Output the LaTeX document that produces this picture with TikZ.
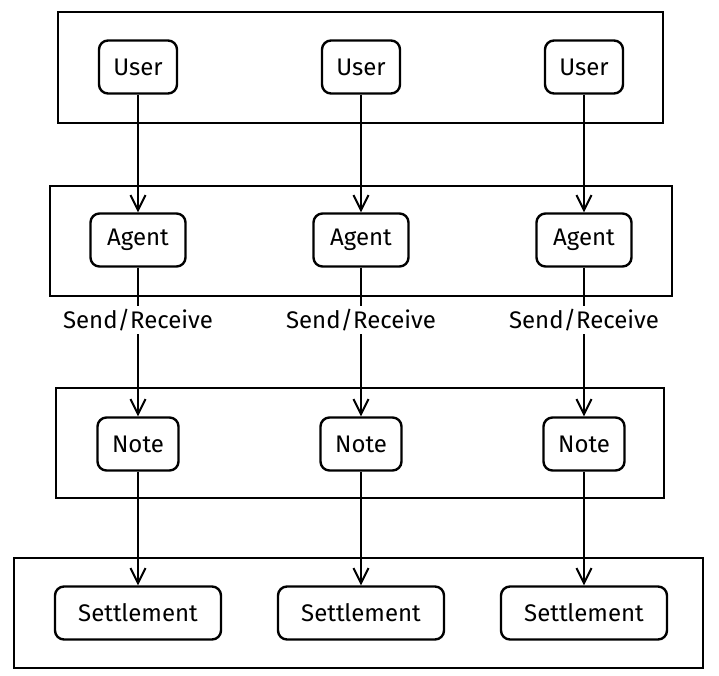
\documentclass[tikz,border=0pt]{standalone}
\usepackage{fontspec}
\setmainfont{Fira Sans}
\usetikzlibrary{arrows.meta}
\begin{document}
\begin{tikzpicture}[x=1pt,y=-1pt,
  grp/.style={draw, line width=2.4pt},
  item/.style={draw, line width=2.4pt, rounded corners=9pt, minimum height=53pt, inner sep=0pt, font=\fontsize{24}{28}\selectfont},
  link/.style={line width=2.4pt, -{Straight Barb[length=15pt,width=15pt,line width=2pt]}},
  lbl/.style={fill=white, inner sep=3pt, font=\fontsize{24}{28}\selectfont}]
\useasboundingbox (0,0) rectangle (719,675);
% group boxes
\draw[grp] (58,12) rectangle (663,123);
\draw[grp] (50,186) rectangle (672,296);
\draw[grp] (56,388) rectangle (664,498);
\draw[grp] (14,558) rectangle (703,668);
% nodes
\foreach \i/\x in {1/138,2/361,3/584}{
  \node[item, minimum width=78pt] (u\i) at (\x,67) {User};
  \node[item, minimum width=95pt] (a\i) at (\x,240) {Agent};
  \node[item, minimum width=81pt] (n\i) at (\x,444) {Note};
  \node[item, minimum width=166pt] (s\i) at (\x,613) {Settlement};
}
\foreach \i in {1,2,3}{
  \draw[link] (u\i) -- (a\i);
  \draw[link] (a\i) -- node[lbl, pos=0.35] {Send/Receive} (n\i);
  \draw[link] (n\i) -- (s\i);
}
\end{tikzpicture}
\end{document}
